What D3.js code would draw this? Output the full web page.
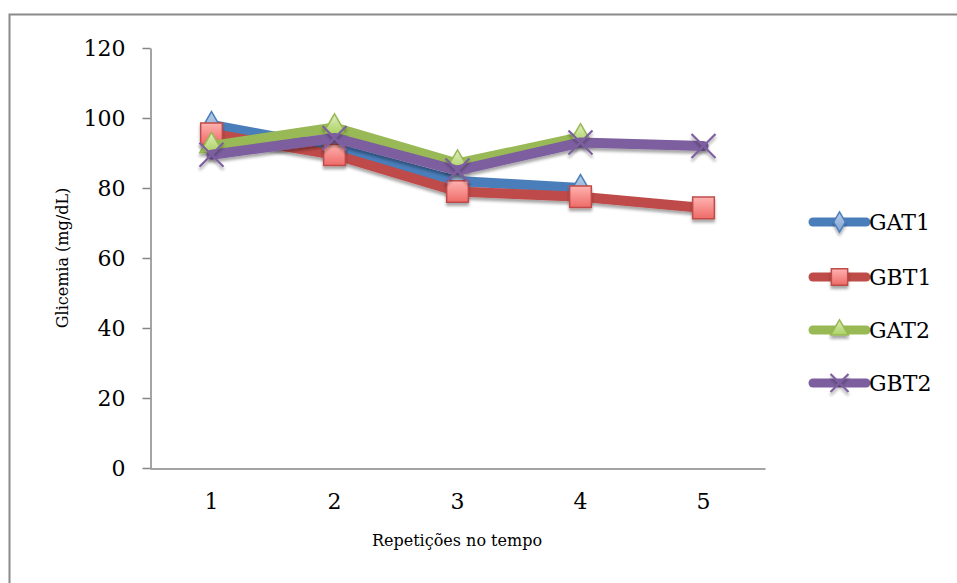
<!DOCTYPE html>
<html>
<head>
<meta charset="utf-8">
<script src="https://cdn.jsdelivr.net/npm/d3@7/dist/d3.min.js"></script>
<style>
  html, body { margin: 0; padding: 0; background: #fff; }
  svg { display: block; }
  text { font-family: "DejaVu Serif", "Liberation Serif", serif; fill: #000; }
</style>
</head>
<body>
<svg id="chart" width="957" height="583"></svg>
<script>
// Glicemia per repetition, four groups
const categories = ["1", "2", "3", "4", "5"];
const seriesNames = ["GAT1", "GBT1", "GAT2", "GBT2"];
const gat1 = [98, 91.5, 82, 80];
const gbt1 = [95.5, 89.5, 79, 77.5, 74.3];
const gat2 = [92, 97.3, 87, 94.5];
const gbt2 = [89.5, 94.3, 85, 93, 92];
const yTicks = [0, 20, 40, 60, 80, 100, 120];
const yTitle = "Glicemia (mg/dL)";
const xTitle = "Repetições no tempo";

const seriesValues = [gat1, gbt1, gat2, gbt2];

const styles = [
  { line: "#4A7EBB", fill0: "#B9CDE5", fill1: "#7EA3D4", stroke: "#4A7EBB", marker: "diamond" },
  { line: "#BE4B48", fill0: "#FFB3B1", fill1: "#EE6A67", stroke: "#BE4B48", marker: "square" },
  { line: "#98B954", fill0: "#E0EEBF", fill1: "#A9D15F", stroke: "#98B954", marker: "triangle" },
  { line: "#7D5FA0", fill0: "none", fill1: "none", stroke: "#7D5FA0", marker: "x" }
];

const svg = d3.select("#chart");
const defs = svg.append("defs");

// soft drop shadow used by lines and markers
const sh = defs.append("filter").attr("id", "shadow")
  .attr("x", "-30%").attr("y", "-30%").attr("width", "160%").attr("height", "180%");
sh.append("feGaussianBlur").attr("in", "SourceAlpha").attr("stdDeviation", 1.6).attr("result", "b");
sh.append("feOffset").attr("in", "b").attr("dx", 0).attr("dy", 2.5).attr("result", "o");
sh.append("feComponentTransfer").attr("in", "o").attr("result", "s")
  .append("feFuncA").attr("type", "linear").attr("slope", 0.35);
const m = sh.append("feMerge");
m.append("feMergeNode").attr("in", "s");
m.append("feMergeNode").attr("in", "SourceGraphic");

styles.forEach((s, i) => {
  const g = defs.append("linearGradient").attr("id", "grad" + i)
    .attr("x1", 0).attr("y1", 0).attr("x2", 0).attr("y2", 1);
  g.append("stop").attr("offset", "0%").attr("stop-color", s.fill0);
  g.append("stop").attr("offset", "100%").attr("stop-color", s.fill1);
});

// outer chart frame
svg.append("rect")
  .attr("x", 9.5).attr("y", 14.5).attr("width", 1000).attr("height", 1000)
  .attr("fill", "none").attr("stroke", "#8a8a8a").attr("stroke-width", 2);

const x = d3.scaleBand().domain(categories).range([150, 765]);
const y = d3.scaleLinear().domain([0, 120]).range([468, 48]);
const cx = c => x(c) + x.bandwidth() / 2;

// y axis
const yAxis = svg.append("g").attr("transform", "translate(150.5,0)")
  .call(d3.axisLeft(y).tickValues(yTicks).tickSize(8).tickPadding(17).tickSizeOuter(0));
yAxis.select(".domain").attr("stroke", "#868686").attr("stroke-width", 1.5);
yAxis.selectAll(".tick line").attr("stroke", "#868686").attr("stroke-width", 1.5);
yAxis.selectAll(".tick text").attr("font-size", 22).attr("font-family", "DejaVu Serif");

// x axis
const xAxis = svg.append("g").attr("transform", "translate(0,468.5)")
  .call(d3.axisBottom(x).tickSize(0).tickPadding(25));
xAxis.select(".domain").attr("stroke", "#868686").attr("stroke-width", 1.5);
xAxis.selectAll(".tick text").attr("font-size", 22).attr("font-family", "DejaVu Serif");

// axis titles
svg.append("text")
  .attr("transform", "translate(68,258) rotate(-90)")
  .attr("text-anchor", "middle").attr("font-size", 16).text(yTitle);
svg.append("text")
  .attr("x", 457).attr("y", 546)
  .attr("text-anchor", "middle").attr("font-size", 16).text(xTitle);

function markerPath(type, k) {
  if (type === "diamond") return d3.symbol(d3.symbolDiamond, 210 * k * k)();
  if (type === "square") return d3.symbol(d3.symbolSquare, 470 * k * k)();
  if (type === "triangle") return d3.symbol(d3.symbolTriangle, 240 * k * k)();
  const h = 12 * k;
  return `M${-h},${-h}L${h},${h}M${-h},${h}L${h},${-h}`;
}

function drawMarker(g, s, i, px, py, k) {
  const p = g.append("path")
    .attr("transform", `translate(${px},${py})`)
    .attr("d", markerPath(s.marker, k))
    .attr("filter", "url(#shadow)");
  if (s.marker === "x") {
    p.attr("fill", "none").attr("stroke", s.stroke).attr("stroke-width", 2.2);
  } else {
    p.attr("fill", `url(#grad${i})`).attr("stroke", s.stroke).attr("stroke-width", 1.5);
  }
}

const line = d3.line().x(d => cx(d.c)).y(d => y(d.v));

seriesValues.forEach((vals, i) => {
  const s = styles[i];
  const pts = vals.map((v, k) => ({ c: categories[k], v }));
  const g = svg.append("g");
  g.append("path")
    .attr("d", line(pts))
    .attr("fill", "none").attr("stroke", s.line)
    .attr("stroke-width", 10).attr("stroke-linejoin", "round").attr("stroke-linecap", "round")
    .attr("filter", "url(#shadow)");
  pts.forEach(p => drawMarker(g, s, i, cx(p.c), y(p.v), 1));
});

// legend
const legendY = [222, 277, 330, 383];
seriesNames.forEach((name, i) => {
  const s = styles[i];
  const g = svg.append("g");
  g.append("line")
    .attr("x1", 813).attr("x2", 866).attr("y1", legendY[i]).attr("y2", legendY[i])
    .attr("stroke", s.line).attr("stroke-width", 9).attr("stroke-linecap", "round");
  drawMarker(g, s, i, 839.5, legendY[i], 0.75);
  g.append("text")
    .attr("x", 869).attr("y", legendY[i] + 8)
    .attr("font-size", 22).text(name);
});
</script>
</body>
</html>
